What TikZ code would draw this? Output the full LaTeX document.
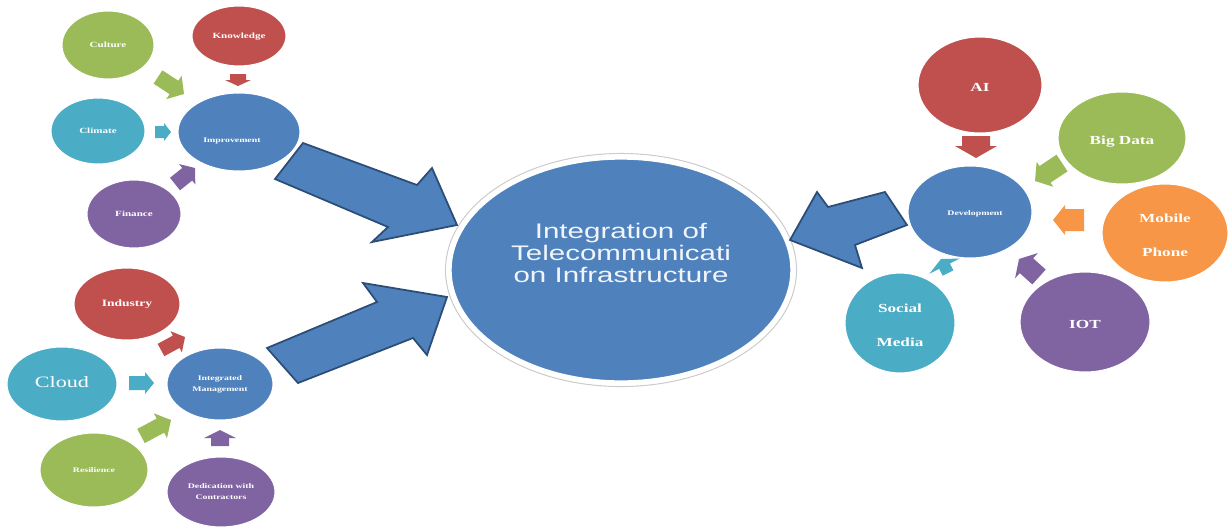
\documentclass[tikz,border=0pt]{standalone}
\usepackage{fontspec}
\usepackage{graphicx}
\setmainfont{Liberation Serif}
\newfontfamily\arialf{Liberation Sans}
\usetikzlibrary{calc,shapes.geometric}
\definecolor{oblue}{RGB}{79,129,189}
\definecolor{oblued}{RGB}{44,77,117}
\definecolor{ored}{RGB}{192,80,77}
\definecolor{ogreen}{RGB}{155,187,89}
\definecolor{oteal}{RGB}{75,172,198}
\definecolor{opurple}{RGB}{128,100,162}
\definecolor{oorange}{RGB}{247,150,70}
\newcommand{\wl}[1]{\scalebox{1.4}[1]{\begin{tabular}{@{}c@{}}#1\end{tabular}}}
\newcommand{\blockarr}[6]{%
  \coordinate (ba-h) at ($(#2)!#5*0.02cm!(#1)$);
  \fill[#6]
    ($(#1)!#3*0.02cm!90:(#2)$) -- ($(ba-h)!#3*0.02cm!90:(#2)$) --
    ($(ba-h)!#4*0.02cm!90:(#2)$) -- (#2) --
    ($(ba-h)!#4*0.02cm!-90:(#2)$) -- ($(ba-h)!#3*0.02cm!-90:(#2)$) --
    ($(#1)!#3*0.02cm!-90:(#2)$) -- cycle;}
\tikzset{
  ell/.style={ellipse, draw=white, line width=0.6pt, inner sep=0pt, text=white},
  tiny/.style={font=\fontsize{4.5}{6.5}\selectfont\bfseries},
  tinier/.style={font=\fontsize{4}{6}\selectfont\bfseries},
  mid/.style={font=\fontsize{7}{19}\selectfont\bfseries},
  bigarr/.style={fill=oblue, draw=oblued, line width=1pt, line join=miter},
}
\begin{document}
\begin{tikzpicture}[x=0.02cm,y=-0.02cm]
\useasboundingbox (0,0) rectangle (1229,531);
\fill[white] (0,0) rectangle (1229,531);
% left top cluster
\node[ell, fill=ogreen, minimum width=1.84cm, minimum height=1.36cm, tiny] (culture) at (108,45) {\wl{Culture}};
\node[ell, fill=ored, minimum width=1.88cm, minimum height=1.2cm, tiny] (knowledge) at (239,36) {\wl{Knowledge}};
\node[ell, fill=oteal, minimum width=1.88cm, minimum height=1.32cm, tiny] (climate) at (98,131) {\wl{Climate}};
\node[ell, fill=oblue, minimum width=2.44cm, minimum height=1.56cm] (improvement) at (239,132) {};
\node[tinier, text=white] (improvementt) at (232,140) {\wl{Improvement}};
\node[ell, fill=opurple, minimum width=1.88cm, minimum height=1.36cm, tiny] (finance) at (134,214) {\wl{Finance}};
% left bottom cluster
\node[ell, fill=ored, minimum width=2.12cm, minimum height=1.44cm, font=\fontsize{5.5}{7}\selectfont\bfseries] (industry) at (127,304) {\wl{Industry}};
\node[ell, fill=oteal, minimum width=2.2cm, minimum height=1.48cm, font=\fontsize{9}{11}\selectfont] (cloud) at (62,384) {\wl{Cloud}};
\node[ell, fill=oblue, minimum width=2.12cm, minimum height=1.44cm, tinier] (integrated) at (220,384) {\wl{Integrated\\Management}};
\node[ell, fill=ogreen, minimum width=2.16cm, minimum height=1.48cm, tinier] (resilience) at (94,470) {\wl{Resilience}};
\node[ell, fill=opurple, minimum width=2.16cm, minimum height=1.4cm, tinier] (dedication) at (221,492) {\wl{Dedication with\\Contractors}};
% centre
\draw[gray!40, line width=0.6pt] (621,270) ellipse (175.5 and 116.5);
\node[ellipse, fill=oblue, draw=white, line width=3pt, minimum width=6.88cm, minimum height=4.52cm] (center) at (621,270) {};
\node[text=white!92!oblue, font=\arialf\fontsize{12}{12}\selectfont] (centert) at (621,256) {\wl{Integration of\\Telecommunicati\\on Infrastructure}};
% right cluster
\node[ell, fill=ored, minimum width=2.48cm, minimum height=1.92cm, mid] (ai) at (980,85) {\wl{AI}};
\node[ell, fill=ogreen, minimum width=2.56cm, minimum height=1.84cm, mid] (bigdata) at (1122,138) {\wl{Big Data}};
\node[ell, fill=oblue, minimum width=2.48cm, minimum height=1.84cm] (development) at (970,212) {};
\node[tinier, text=white] (developmentt) at (975,213) {\wl{Development}};
\node[ell, fill=oorange, minimum width=2.52cm, minimum height=1.96cm, mid] (mobile) at (1165,233) {\wl{Mobile\\Phone}};
\node[ell, fill=oteal, minimum width=2.2cm, minimum height=2.0cm, mid] (social) at (900,323) {\wl{Social\\Media}};
\node[ell, fill=opurple, minimum width=2.6cm, minimum height=2.0cm, mid] (iot) at (1085,322) {\wl{IOT}};
% big block arrows
\draw[bigarr] (303,143) -- (417,185) -- (432,168) -- (457,225) -- (372,242) -- (388,227) -- (275,179) -- cycle;
\draw[bigarr] (267,348) -- (377,302) -- (363,283) -- (447,297) -- (427,355) -- (413,338) -- (298,383) -- cycle;
\draw[bigarr] (885,192) -- (828,207) -- (817,192) -- (790,240) -- (862,268) -- (855,245) -- (907,225) -- cycle;
% small arrows: tails and tips
\coordinate (a1s) at (158,77);  \coordinate (a1e) at (184,94);
\coordinate (a2s) at (238,74);  \coordinate (a2e) at (238,86);
\coordinate (a3s) at (155,132); \coordinate (a3e) at (171,132);
\coordinate (a4s) at (175,184); \coordinate (a4e) at (195,168);
\coordinate (b1s) at (161,350); \coordinate (b1e) at (185,337);
\coordinate (b2s) at (129,383); \coordinate (b2e) at (154,383);
\coordinate (b3s) at (141,436); \coordinate (b3e) at (171,420);
\coordinate (b4s) at (220,446); \coordinate (b4e) at (220,430);
\coordinate (c1s) at (976,136); \coordinate (c1e) at (976,158);
\coordinate (c2s) at (1062,163); \coordinate (c2e) at (1035,181);
\coordinate (c3s) at (1084,220); \coordinate (c3e) at (1053,220);
\coordinate (c4s) at (1039,277); \coordinate (c4e) at (1019,259);
\coordinate (c5s) at (948,273); \coordinate (c5e) at (941,259);
\blockarr{a1s}{a1e}{8}{14}{12}{ogreen}
\blockarr{a2s}{a2e}{8}{13}{6}{ored}
\blockarr{a3s}{a3e}{6}{9}{7}{oteal}
\blockarr{a4s}{a4e}{8}{13}{10}{opurple}
\blockarr{b1s}{b1e}{7}{12}{10}{ored}
\blockarr{b2s}{b2e}{7}{11}{9}{oteal}
\blockarr{b3s}{b3e}{8}{14}{12}{ogreen}
\blockarr{b4s}{b4e}{9}{16}{8}{opurple}
\blockarr{c1s}{c1e}{14}{21}{12}{ored}
\blockarr{c2s}{c2e}{10}{15}{12}{ogreen}
\blockarr{c3s}{c3e}{11}{15}{12}{oorange}
\blockarr{c4s}{c4e}{10}{17}{10}{opurple}
\blockarr{c5s}{c5e}{6}{17}{8}{oteal}
\end{tikzpicture}
\end{document}
